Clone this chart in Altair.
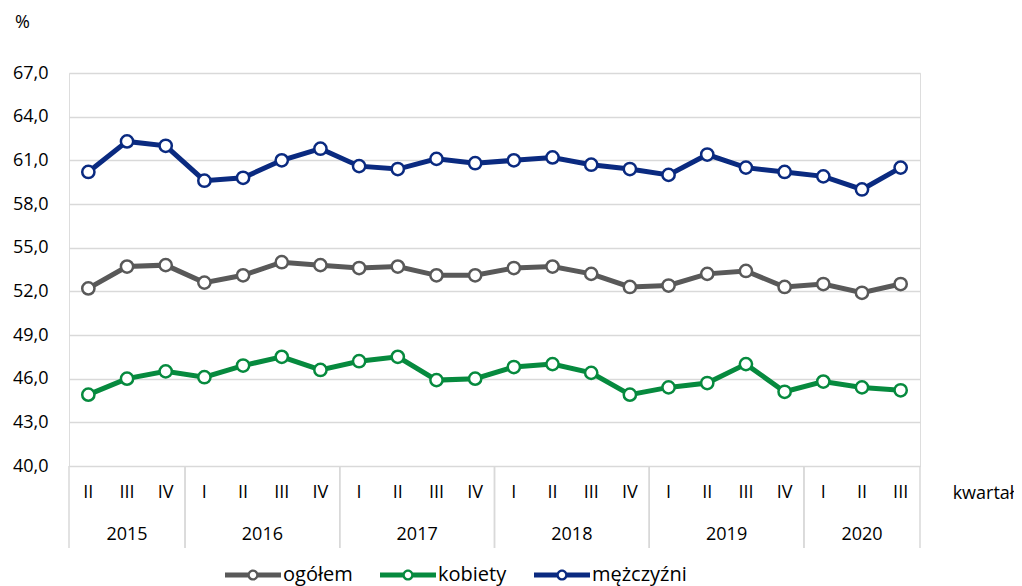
import altair as alt
import pandas as pd

quarters = ["II", "III", "IV",
            "I", "II", "III", "IV",
            "I", "II", "III", "IV",
            "I", "II", "III", "IV",
            "I", "II", "III", "IV",
            "I", "II", "III"]
years = ["2015"] * 3 + ["2016"] * 4 + ["2017"] * 4 + ["2018"] * 4 + ["2019"] * 4 + ["2020"] * 3

ogolem = [52.2, 53.7, 53.8, 52.6, 53.1, 54.0, 53.8, 53.6, 53.7, 53.1, 53.1,
          53.6, 53.7, 53.2, 52.3, 52.4, 53.2, 53.4, 52.3, 52.5, 51.9, 52.5]
kobiety = [44.9, 46.0, 46.5, 46.1, 46.9, 47.5, 46.6, 47.2, 47.5, 45.9, 46.0,
           46.8, 47.0, 46.4, 44.9, 45.4, 45.7, 47.0, 45.1, 45.8, 45.4, 45.2]
mezczyzni = [60.2, 62.3, 62.0, 59.6, 59.8, 61.0, 61.8, 60.6, 60.4, 61.1, 60.8,
             61.0, 61.2, 60.7, 60.4, 60.0, 61.4, 60.5, 60.2, 59.9, 59.0, 60.5]

series_names = ["ogółem", "kobiety", "mężczyźni"]
series_colors = ["#595959", "#068a3e", "#0a2a80"]
y_ticks = [40, 43, 46, 49, 52, 55, 58, 61, 64, 67]

FONT = "Open Sans"
FS = 18
W, H = 851, 393
GRID = "#d9d9d9"

idx = list(range(len(quarters)))
axis_df = pd.DataFrame({"i": idx, "q": quarters, "year": years})

rows = []
for name, vals in zip(series_names, [ogolem, kobiety, mezczyzni]):
    for i, v in enumerate(vals):
        rows.append({"i": i, "series": name, "value": v})
df = pd.DataFrame(rows)

xscale = alt.Scale(domain=[-0.5, len(quarters) - 0.5], nice=False, zero=False)
yscale = alt.Scale(domain=[40, 67], nice=False, zero=False)
cscale = alt.Scale(domain=series_names, range=series_colors)

legend_path = (
    "M-1,-0.089 H-0.17 V0.089 H-1 Z "
    "M0.17,-0.089 H1 V0.089 H0.17 Z "
    "M0.2,0 A0.2,0.2 0 1,1 -0.2,0 A0.2,0.2 0 1,1 0.2,0 Z "
    "M0.115,0 A0.115,0.115 0 1,0 -0.115,0 A0.115,0.115 0 1,0 0.115,0 Z"
)

base = alt.Chart(df)

lines = base.mark_line(strokeWidth=5).encode(
    x=alt.X("i:Q", scale=xscale,
            axis=alt.Axis(labels=False, ticks=False, domain=False, grid=False,
                          title="kwartał", titleX=914, titleY=27,
                          titleAlign="center", titleBaseline="middle",
                          titleFont=FONT, titleFontSize=FS, titleFontWeight="normal",
                          titleColor="#000000")),
    y=alt.Y("value:Q", scale=yscale,
            axis=alt.Axis(values=y_ticks, grid=True, gridColor=GRID, gridWidth=1.5,
                          domain=False, ticks=False,
                          labelExpr="replace(format(datum.value, '.1f'), '.', ',')",
                          labelFont=FONT, labelFontSize=FS, labelColor="#000000",
                          labelPadding=21,
                          title="%", titleAngle=0, titleX=-47, titleY=-51,
                          titleAlign="center", titleBaseline="middle",
                          titleFont=FONT, titleFontSize=FS, titleFontWeight="normal",
                          titleColor="#000000")),
    color=alt.Color("series:N", scale=cscale, legend=None),
)

points = base.mark_point(filled=False, fill="white", size=150, strokeWidth=2.5, opacity=1).encode(
    x=alt.X("i:Q", scale=xscale),
    y=alt.Y("value:Q", scale=yscale),
    stroke=alt.Stroke("series:N", scale=cscale, legend=None),
)

legend_layer = base.mark_point(filled=True, opacity=0).encode(
    x=alt.X("i:Q", scale=xscale),
    y=alt.Y("value:Q", scale=yscale),
    fill=alt.Fill("series:N", scale=cscale, sort=series_names,
                  legend=alt.Legend(
                      title=None, orient="none", direction="horizontal",
                      legendX=156, legendY=474,
                      symbolType=legend_path, symbolSize=3136,
                      symbolStrokeWidth=0, symbolOpacity=1,
                      labelFont=FONT, labelFontSize=20, labelColor="#000000",
                      labelOffset=2, columnPadding=27, padding=0)),
)

axis_base = alt.Chart(axis_df)

q_text = axis_base.mark_text(font=FONT, fontSize=FS, color="#000000", baseline="middle").encode(
    x=alt.X("i:Q", scale=xscale),
    y=alt.value(H + 27),
    text="q:N",
)

year_text = axis_base.transform_aggregate(
    mid="mean(i)", groupby=["year"]
).mark_text(font=FONT, fontSize=FS, color="#000000", baseline="middle").encode(
    x=alt.X("mid:Q", scale=xscale),
    y=alt.value(H + 69),
    text="year:N",
)

sep_left = axis_base.transform_aggregate(
    start="min(i)", groupby=["year"]
).transform_calculate(b="datum.start - 0.5").mark_rule(color=GRID, strokeWidth=1.5).encode(
    x=alt.X("b:Q", scale=xscale),
    y=alt.value(H),
    y2=alt.value(H + 82),
)

sep_right = axis_base.transform_aggregate(
    end="max(i)", groupby=["year"]
).transform_calculate(b="datum.end + 0.5").mark_rule(color=GRID, strokeWidth=1.5).encode(
    x=alt.X("b:Q", scale=xscale),
    y=alt.value(H),
    y2=alt.value(H + 82),
)

chart = alt.layer(sep_left, sep_right, q_text, year_text, legend_layer, lines, points).properties(
    width=W, height=H,
    autosize=alt.AutoSizeParams(type="none"),
    padding={"left": 61, "top": 65, "right": 94, "bottom": 120},
).configure_view(stroke=None).configure_axisX(grid=False).configure(background="white")

chart.save("out.html", embed_options={"renderer": "svg", "actions": False})
